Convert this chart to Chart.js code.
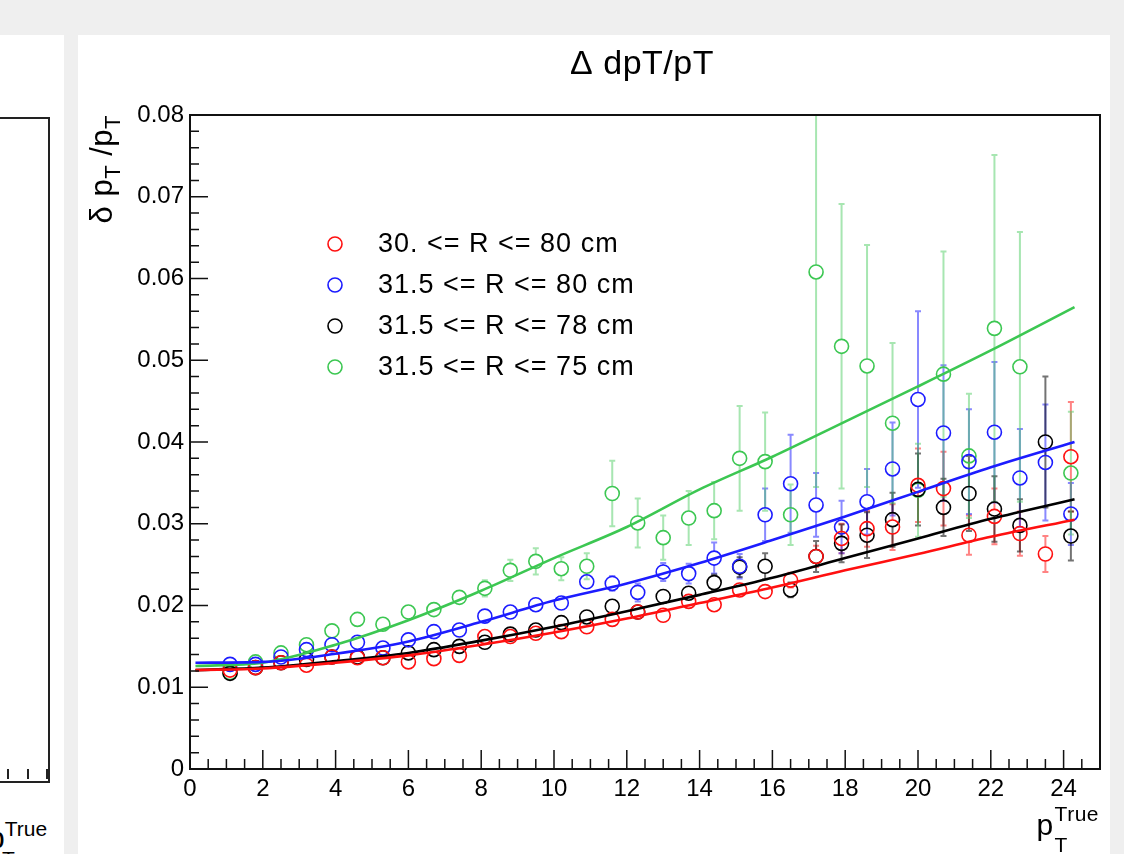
<!DOCTYPE html>
<html>
<head>
<meta charset="utf-8">
<title>dpT/pT</title>
<script src="https://cdn.jsdelivr.net/npm/chart.js@4.4.1/dist/chart.umd.min.js"></script>
<style>
  body { margin: 0; width: 1124px; height: 854px; overflow: hidden; position: relative; background: #efefef; font-family: "Liberation Sans", Arial, sans-serif; }
  #leftPad { position: absolute; left: 0; top: 35px; width: 64px; height: 819px; background: #fff; overflow: hidden; }
  #leftFrame { position: absolute; left: -10px; top: 82px; width: 58px; height: 662px; border: 2px solid #222; border-left: none; }
  .ltick { position: absolute; width: 1.5px; height: 10px; background: #222; top: 734px; }
  #leftTitle { position: absolute; left: -12px; top: 782px; font-size: 30px; color: #000; white-space: nowrap; }
  #leftTitle sup { font-size: 21px; vertical-align: 12px; }
  #leftTitle sub { font-size: 21px; position: absolute; left: 14px; top: 30px; }
  #mainPad { position: absolute; left: 78px; top: 35px; width: 1032px; height: 819px; background: #fff; }
</style>
</head>
<body>
<div id="leftPad">
  <div id="leftFrame"></div>
  <div class="ltick" style="left:7px"></div>
  <div class="ltick" style="left:27px"></div>
  <div class="ltick" style="left:46px"></div>
  <div id="leftTitle">p<sup>True</sup><sub>T</sub></div>
</div>
<div id="mainPad"><canvas id="resChart"></canvas></div>
<script>
// true pT of each bin
const ptTrue = [1.1, 1.8, 2.5, 3.2, 3.9, 4.6, 5.3, 6.0, 6.7, 7.4, 8.1, 8.8, 9.5, 10.2, 10.9, 11.6, 12.3,
  13.0, 13.7, 14.4, 15.1, 15.8, 16.5, 17.2, 17.9, 18.6, 19.3, 20.0, 20.7, 21.4, 22.1, 22.8, 23.5, 24.2];

// 30. <= R <= 80 cm
const res30_80 = [0.0121, 0.0124, 0.0130, 0.0127, 0.0137, 0.0136, 0.0136, 0.0131, 0.0135, 0.0139, 0.0162, 0.0162,
  0.0166, 0.0168, 0.0174, 0.0183, 0.0192, 0.0188, 0.0205, 0.0201, 0.0219, 0.0217, 0.0231, 0.0260, 0.0282,
  0.0294, 0.0296, 0.0347, 0.0343, 0.0286, 0.0309, 0.0288, 0.0263, 0.0382];
const err30_80 = [0.0004, 0.0004, 0.0004, 0.0004, 0.0004, 0.0004, 0.0004, 0.0004, 0.0004, 0.0004, 0.0004, 0.0004,
  0.0004, 0.0004, 0.0004, 0.0004, 0.0004, 0.0004, 0.0004, 0.0005, 0.0006, 0.0007, 0.0009, 0.0013, 0.0018,
  0.0022, 0.0028, 0.0045, 0.0045, 0.0024, 0.0034, 0.0027, 0.0022, 0.0067];

// 31.5 <= R <= 80 cm
const res315_80 = [0.0128, 0.0128, 0.0137, 0.0146, 0.0152, 0.0155, 0.0148, 0.0158, 0.0168, 0.0170, 0.0187, 0.0192,
  0.0201, 0.0203, 0.0229, 0.0227, 0.0216, 0.0241, 0.0239, 0.0258, 0.0248, 0.0311, 0.0349, 0.0323, 0.0296,
  0.0327, 0.0367, 0.0452, 0.0411, 0.0376, 0.0412, 0.0356, 0.0375, 0.0312];
const err315_80 = [0.0004, 0.0004, 0.0004, 0.0004, 0.0004, 0.0004, 0.0004, 0.0004, 0.0004, 0.0004, 0.0004, 0.0004,
  0.0004, 0.0004, 0.0008, 0.0009, 0.0011, 0.0011, 0.0012, 0.0019, 0.0015, 0.0032, 0.0060, 0.0039, 0.0032,
  0.0040, 0.0057, 0.0108, 0.0083, 0.0064, 0.0086, 0.0060, 0.0071, 0.0038];

// 31.5 <= R <= 78 cm
const res315_78 = [0.0117, 0.0124, 0.0130, 0.0134, 0.0137, 0.0137, 0.0136, 0.0142, 0.0146, 0.0150, 0.0155, 0.0165,
  0.0170, 0.0179, 0.0186, 0.0199, 0.0192, 0.0211, 0.0215, 0.0228, 0.0247, 0.0248, 0.0219, 0.0260, 0.0276,
  0.0286, 0.0305, 0.0342, 0.0320, 0.0337, 0.0318, 0.0298, 0.0400, 0.0285];
const err315_78 = [0.0004, 0.0004, 0.0004, 0.0004, 0.0004, 0.0004, 0.0004, 0.0004, 0.0004, 0.0004, 0.0004, 0.0004,
  0.0004, 0.0004, 0.0004, 0.0004, 0.0006, 0.0006, 0.0008, 0.0010, 0.0012, 0.0016, 0.0009, 0.0019, 0.0023,
  0.0028, 0.0033, 0.0044, 0.0035, 0.0046, 0.0040, 0.0032, 0.0080, 0.0030];

// 31.5 <= R <= 75 cm
const res315_75 = [0.0118, 0.0131, 0.0142, 0.0152, 0.0169, 0.0183, 0.0177, 0.0192, 0.0195, 0.0210, 0.0221, 0.0243,
  0.0254, 0.0245, 0.0248, 0.0337, 0.0301, 0.0283, 0.0307, 0.0316, 0.0380, 0.0376, 0.0311, 0.0608, 0.0517,
  0.0493, 0.0423, 0.0341, 0.0483, 0.0383, 0.0539, 0.0492, null, 0.0362];
const err315_75 = [0.0004, 0.0004, 0.0004, 0.0004, 0.0004, 0.0004, 0.0004, 0.0005, 0.0006, 0.0008, 0.0010, 0.0013,
  0.0016, 0.0014, 0.0016, 0.0040, 0.0030, 0.0027, 0.0033, 0.0035, 0.0064, 0.0060, 0.0037, 0.0263, 0.0174,
  0.0148, 0.0098, 0.0057, 0.0150, 0.0076, 0.0212, 0.0165, null, 0.0075];

// fitted curves
const fitPt = [0.15, 2, 4, 6, 8, 10, 12, 14, 16, 18, 20, 22, 24.3];
const fit30_80 = [0.0121, 0.0123, 0.0130, 0.0139, 0.0152, 0.0167, 0.0184, 0.0203, 0.0222, 0.0243, 0.0263, 0.0284, 0.0305];
const fit315_78 = [0.0121, 0.0124, 0.0132, 0.0142, 0.0157, 0.0174, 0.0193, 0.0213, 0.0234, 0.0258, 0.0282, 0.0306, 0.0330];
const fit315_80 = [0.0130, 0.0131, 0.0141, 0.0156, 0.0180, 0.0206, 0.0227, 0.0252, 0.0280, 0.0309, 0.0339, 0.0369, 0.0400];
const fit315_75 = [0.0126, 0.0130, 0.0152, 0.0182, 0.0218, 0.0258, 0.0296, 0.0342, 0.0382, 0.0425, 0.0468, 0.0512, 0.0565];

const xTickVals = [0, 2, 4, 6, 8, 10, 12, 14, 16, 18, 20, 22, 24];
const yTickVals = [0, 0.01, 0.02, 0.03, 0.04, 0.05, 0.06, 0.07, 0.08];

const legendLabels = ["30. <= R <= 80 cm", "31.5 <= R <= 80 cm", "31.5 <= R <= 78 cm", "31.5 <= R <= 75 cm"];

const series = [
  { label: legendLabels[0], vals: res30_80, errs: err30_80, fit: fit30_80, color: "#ff1010", errColor: "rgba(255,30,30,0.55)" },
  { label: legendLabels[1], vals: res315_80, errs: err315_80, fit: fit315_80, color: "#1c1cff", errColor: "rgba(40,40,255,0.55)" },
  { label: legendLabels[2], vals: res315_78, errs: err315_78, fit: fit315_78, color: "#000000", errColor: "rgba(0,0,0,0.55)" },
  { label: legendLabels[3], vals: res315_75, errs: err315_75, fit: fit315_75, color: "#3cc752", errColor: "rgba(80,205,100,0.5)" }
];

const markerR = 7;
const FONT = '"Liberation Sans", Arial, sans-serif';

function toPoints(xs, ys) {
  const pts = [];
  xs.forEach((v, i) => { if (ys[i] != null) pts.push({ x: v, y: ys[i] }); });
  return pts;
}

// error bars go under the markers
const errorBars = {
  id: 'errorBars',
  beforeDatasetsDraw(chart) {
    const { ctx, chartArea: a, scales: { x, y } } = chart;
    ctx.save();
    ctx.beginPath();
    ctx.rect(a.left, a.top, a.width, a.height);
    ctx.clip();
    ctx.lineWidth = 2;
    series.forEach(s => {
      ctx.strokeStyle = s.errColor;
      s.vals.forEach((v, i) => {
        if (v == null) return;
        const px = x.getPixelForValue(ptTrue[i]);
        const pc = y.getPixelForValue(v);
        const pt = y.getPixelForValue(v + s.errs[i]);
        const pb = y.getPixelForValue(v - s.errs[i]);
        ctx.beginPath();
        if (pc - pt > markerR) {
          ctx.moveTo(px, pt); ctx.lineTo(px, pc - markerR);
          ctx.moveTo(px - 3, pt); ctx.lineTo(px + 3, pt);
        }
        if (pb - pc > markerR) {
          ctx.moveTo(px, pc + markerR); ctx.lineTo(px, pb);
          ctx.moveTo(px - 3, pb); ctx.lineTo(px + 3, pb);
        }
        ctx.stroke();
      });
    });
    ctx.restore();
  }
};

// ROOT style frame, inward ticks, titles and legend
const decorations = {
  id: 'decorations',
  afterDraw(chart) {
    const { ctx, chartArea: a, scales: { x, y } } = chart;
    ctx.save();
    ctx.strokeStyle = '#111';
    ctx.lineWidth = 1.5;
    ctx.beginPath();
    for (let i = 0; i <= 50; i++) {
      const px = x.getPixelForValue(i * 0.5);
      if (px > a.right) break;
      const len = i % 4 === 0 ? 19 : 10;
      ctx.moveTo(px, a.bottom); ctx.lineTo(px, a.bottom - len);
    }
    for (let i = 0; i <= 40; i++) {
      const py = y.getPixelForValue(i * 0.002);
      const len = i % 5 === 0 ? 18 : 9;
      ctx.moveTo(a.left, py); ctx.lineTo(a.left + len, py);
    }
    ctx.stroke();
    ctx.lineWidth = 2;
    ctx.strokeRect(a.left, a.top, a.width, a.height);

    ctx.fillStyle = '#000';
    // main title
    ctx.font = '34px ' + FONT;
    ctx.letterSpacing = '0.5px';
    ctx.textAlign = 'center';
    ctx.textBaseline = 'alphabetic';
    ctx.fillText('\u0394 dpT/pT', 564, 39);

    // x title  p_T^True
    ctx.textAlign = 'left';
    ctx.font = '30px ' + FONT;
    const pW = ctx.measureText('p').width;
    ctx.font = '21px ' + FONT;
    const supW = ctx.measureText('True').width;
    const x0 = a.right - pW - supW - 2;
    ctx.font = '30px ' + FONT;
    ctx.fillText('p', x0, 800);
    ctx.font = '21px ' + FONT;
    ctx.fillText('True', x0 + pW + 1, 786);
    ctx.fillText('T', x0 + pW + 1, 817);

    // y title  δp_T/p_T, rotated, ending at the top of the axis
    const parts = [['\u03b4 p', 31, 0], ['T', 22, 8], [' /p', 31, 0], ['T', 22, 8]];
    let total = 0;
    parts.forEach(p => { ctx.font = p[1] + 'px ' + FONT; total += ctx.measureText(p[0]).width; });
    ctx.translate(34, a.top + total);
    ctx.rotate(-Math.PI / 2);
    let cx = 0;
    parts.forEach(p => {
      ctx.font = p[1] + 'px ' + FONT;
      ctx.fillText(p[0], cx, p[2]);
      cx += ctx.measureText(p[0]).width;
    });
    ctx.setTransform(1, 0, 0, 1, 0, 0);

    // legend
    ctx.font = '27px ' + FONT;
    ctx.letterSpacing = '1px';
    ctx.textBaseline = 'middle';
    ctx.lineWidth = 1.6;
    series.forEach((s, i) => {
      const ly = 209 + i * 41;
      ctx.strokeStyle = s.color;
      ctx.beginPath();
      ctx.arc(257, ly, markerR, 0, Math.PI * 2);
      ctx.stroke();
      ctx.fillStyle = '#000';
      ctx.fillText(s.label, 300, ly + 1);
    });
    ctx.restore();
  }
};

const datasets = [];
series.forEach(s => {
  datasets.push({
    type: 'line',
    data: toPoints(fitPt, s.fit),
    borderColor: s.color,
    borderWidth: 2.6,
    pointRadius: 0,
    cubicInterpolationMode: 'monotone',
    fill: false
  });
});
series.forEach(s => {
  datasets.push({
    type: 'scatter',
    label: s.label,
    data: toPoints(ptTrue, s.vals),
    borderColor: s.color,
    backgroundColor: 'rgba(0,0,0,0)',
    pointStyle: 'circle',
    pointRadius: markerR,
    pointBorderWidth: 1.6,
    showLine: false
  });
});

const ctx = document.getElementById("resChart").getContext("2d");
new Chart(ctx, {
  data: { datasets: datasets },
  plugins: [errorBars, decorations],
  options: {
    responsive: true,
    maintainAspectRatio: false,
    animation: false,
    layout: { padding: { left: 0, top: 80, right: 10, bottom: 0 } },
    scales: {
      x: {
        type: 'linear',
        min: 0,
        max: 25,
        afterBuildTicks: scale => { scale.ticks = xTickVals.map(v => ({ value: v })); },
        afterFit: scale => { scale.height = 85; },
        grid: { display: false, drawTicks: false },
        border: { display: false },
        ticks: { color: '#000', padding: 6, maxRotation: 0, font: { family: FONT, size: 24 } }
      },
      y: {
        type: 'linear',
        min: 0,
        max: 0.08,
        afterBuildTicks: scale => { scale.ticks = yTickVals.map(v => ({ value: v })); },
        afterFit: scale => { scale.width = 112; },
        grid: { display: false, drawTicks: false },
        border: { display: false },
        ticks: {
          color: '#000',
          padding: 6,
          font: { family: FONT, size: 24 },
          callback: v => v === 0 ? '0' : v.toFixed(2)
        }
      }
    },
    plugins: {
      legend: { display: false },
      tooltip: { enabled: false }
    }
  }
});
</script>
</body>
</html>
